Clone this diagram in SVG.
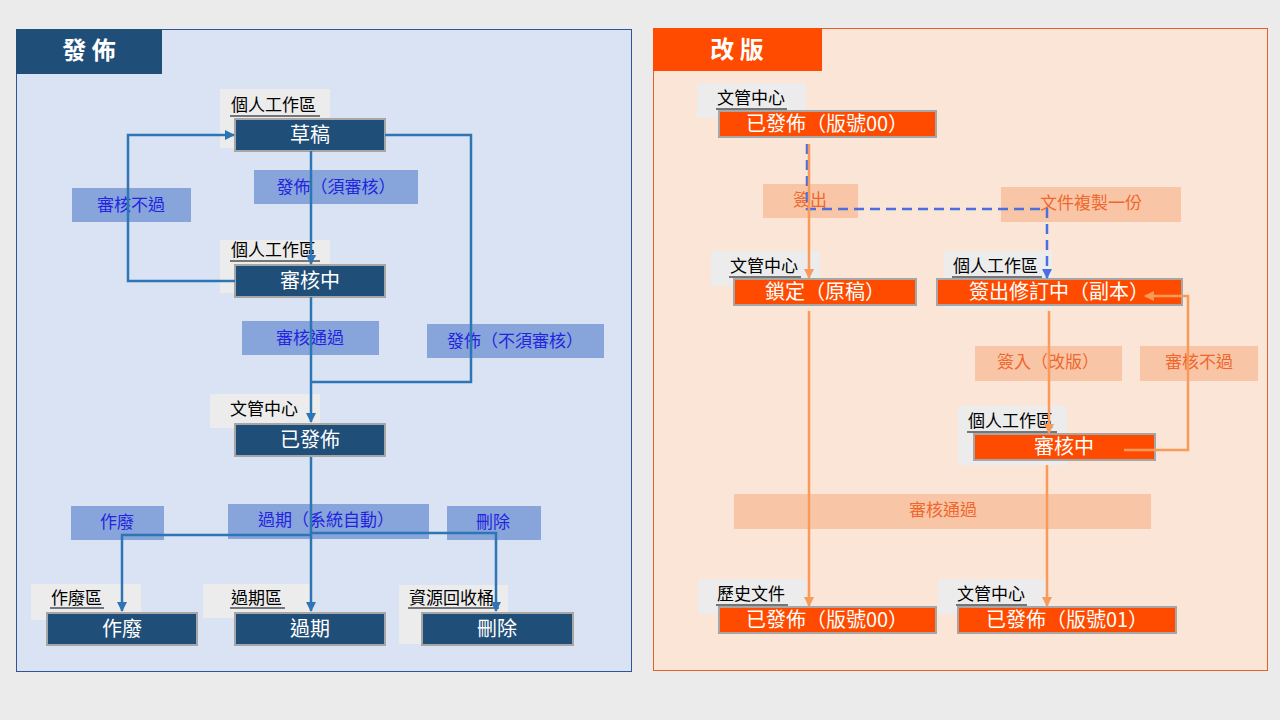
<svg xmlns="http://www.w3.org/2000/svg" width="1280" height="720" viewBox="0 0 1280 720">
<defs>
<marker id="ab" markerUnits="userSpaceOnUse" markerWidth="12" markerHeight="12" refX="9" refY="5" orient="auto"><path d="M0,0 L10,5 L0,10 Z" fill="#2e75b6"/></marker>
<marker id="ao" markerUnits="userSpaceOnUse" markerWidth="12" markerHeight="12" refX="9" refY="5" orient="auto"><path d="M0,0 L10,5 L0,10 Z" fill="#f79a5a"/></marker>
<marker id="ad" markerUnits="userSpaceOnUse" markerWidth="12" markerHeight="12" refX="9" refY="5" orient="auto"><path d="M0,0 L10,5 L0,10 Z" fill="#4a6fe3"/></marker>
</defs>
<style>
text{font-family:"Microsoft JhengHei","Noto Sans CJK TC",sans-serif}
.title{font-size:24px;font-weight:bold;fill:#fff;text-anchor:middle}
.lbg{fill:#ececec}
.lt{font-size:17px;fill:#000}
.ul{stroke:#000;stroke-width:1}
.nb{fill:#1f4e79;stroke:#a6a6a6;stroke-width:2}
.no{fill:#ff4b00;stroke:#a6a6a6;stroke-width:2}
.nt{font-size:20px;fill:#fff;text-anchor:middle}
.eb{fill:#87a5da}
.et{font-size:17px;fill:#2424e0;text-anchor:middle}
.ob{fill:#f8c6a6}
.ot{font-size:17px;fill:#f0672e;text-anchor:middle}
.cb{fill:none;stroke:#2e75b6;stroke-width:2.5}
.co{fill:none;stroke:#f79a5a;stroke-width:2.5}
.cd{fill:none;stroke:#4a6fe3;stroke-width:2.5;stroke-dasharray:10 6}
</style>
<rect width="1280" height="720" fill="#ebebeb"/>
<g id="panel-publish">
<rect x="16.5" y="29.5" width="615" height="642" fill="#dae3f3" stroke="#2f5597"/>
<rect x="16" y="29" width="146" height="45" fill="#1f4e79"/>
<text class="title" x="89" y="59">發 佈</text>
</g>
<g id="panel-revise">
<rect x="653.5" y="28.5" width="614" height="642" fill="#fbe5d6" stroke="#e2602a"/>
<rect x="653" y="28" width="169" height="43" fill="#ff4b00"/>
<text class="title" x="737" y="58">改 版</text>
</g>
<g id="edge-labels-left">
<rect class="eb" x="254" y="170" width="164" height="34"/><text class="et" x="336" y="193">發佈（須審核）</text>
<rect class="eb" x="72" y="188" width="119" height="34"/><text class="et" x="131" y="211">審核不過</text>
<rect class="eb" x="242" y="321" width="137" height="34"/><text class="et" x="310" y="344">審核通過</text>
<rect class="eb" x="427" y="324" width="177" height="34"/><text class="et" x="515" y="347">發佈（不須審核）</text>
<rect class="eb" x="71" y="506" width="93" height="34"/><text class="et" x="117" y="528">作廢</text>
<rect class="eb" x="228" y="504" width="201" height="35"/><text class="et" x="326" y="526">過期（系統自動）</text>
<rect class="eb" x="447" y="506" width="94" height="34"/><text class="et" x="493" y="528">刪除</text>
</g>
<g id="edge-labels-right">
<rect class="ob" x="763" y="184" width="95" height="34"/><text class="ot" x="810" y="206">簽出</text>
<rect class="ob" x="1001" y="187" width="180" height="35"/><text class="ot" x="1091" y="209">文件複製一份</text>
<rect class="ob" x="975" y="346" width="147" height="35"/><text class="ot" x="1048" y="368">簽入（改版）</text>
<rect class="ob" x="1140" y="346" width="118" height="35"/><text class="ot" x="1199" y="368">審核不過</text>
<rect class="ob" x="734" y="494" width="417" height="35"/><text class="ot" x="943" y="516">審核通過</text>
</g>
<g id="node-draft">
<rect class="lbg" x="220" y="89" width="110" height="59"/>
<text class="lt" x="231" y="111">個人工作區</text><line class="ul" x1="230" y1="116" x2="320" y2="116"/>
<rect class="nb" x="235" y="119" width="150" height="32"/><text class="nt" x="310" y="142">草稿</text>
</g>
<g id="node-review">
<rect class="lbg" x="220" y="240" width="110" height="53"/>
<text class="lt" x="231" y="256">個人工作區</text><line class="ul" x1="230" y1="261" x2="320" y2="261"/>
<rect class="nb" x="235" y="265" width="150" height="32"/><text class="nt" x="310" y="288">審核中</text>
</g>
<g id="node-published">
<rect class="lbg" x="210" y="394" width="110" height="34"/>
<text class="lt" x="230" y="415">文管中心</text>
<rect class="nb" x="235" y="424" width="150" height="32"/><text class="nt" x="310" y="447">已發佈</text>
</g>
<g id="node-void">
<rect class="lbg" x="31" y="584" width="110" height="36"/>
<text class="lt" x="51" y="604">作廢區</text><line class="ul" x1="50" y1="608" x2="104" y2="608"/>
<rect class="nb" x="47" y="613" width="150" height="32"/><text class="nt" x="122" y="636">作廢</text>
</g>
<g id="node-expired">
<rect class="lbg" x="203" y="584" width="108" height="34"/>
<text class="lt" x="231" y="604">過期區</text><line class="ul" x1="230" y1="608" x2="285" y2="608"/>
<rect class="nb" x="235" y="613" width="150" height="32"/><text class="nt" x="310" y="636">過期</text>
</g>
<g id="node-deleted">
<rect class="lbg" x="399" y="585" width="109" height="59"/>
<text class="lt" x="409" y="604">資源回收桶</text><line class="ul" x1="408" y1="608" x2="499" y2="608"/>
<rect class="nb" x="422" y="613" width="151" height="32"/><text class="nt" x="497" y="636">刪除</text>
</g>
<g id="node-pub00">
<rect class="lbg" x="697" y="83" width="109" height="35"/>
<text class="lt" x="717" y="104">文管中心</text><line class="ul" x1="716" y1="109" x2="787" y2="109"/>
<rect class="no" x="719" y="111" width="217" height="26"/><text class="nt" x="827" y="131">已發佈（版號00）</text>
</g>
<g id="node-locked">
<rect class="lbg" x="711" y="251" width="109" height="35"/>
<text class="lt" x="730" y="272">文管中心</text><line class="ul" x1="729" y1="277" x2="801" y2="277"/>
<rect class="no" x="734" y="279" width="182" height="26"/><text class="nt" x="825" y="299">鎖定（原稿）</text>
</g>
<g id="node-checkout">
<rect class="lbg" x="944" y="251" width="108" height="58"/>
<text class="lt" x="953" y="272">個人工作區</text><line class="ul" x1="952" y1="277" x2="1042" y2="277"/>
<rect class="no" x="937" y="279" width="245" height="26"/><text class="nt" x="1059" y="299">簽出修訂中（副本）</text>
</g>
<g id="node-review2">
<rect class="lbg" x="958" y="406" width="109" height="59"/>
<text class="lt" x="968" y="427">個人工作區</text><line class="ul" x1="967" y1="432" x2="1057" y2="432"/>
<rect class="no" x="974" y="434" width="181" height="26"/><text class="nt" x="1064" y="454">審核中</text>
</g>
<g id="node-history">
<rect class="lbg" x="698" y="579" width="108" height="35"/>
<text class="lt" x="717" y="600">歷史文件</text><line class="ul" x1="716" y1="605" x2="788" y2="605"/>
<rect class="no" x="719" y="607" width="217" height="26"/><text class="nt" x="827" y="627">已發佈（版號00）</text>
</g>
<g id="node-pub01">
<rect class="lbg" x="938" y="579" width="108" height="35"/>
<text class="lt" x="957" y="600">文管中心</text><line class="ul" x1="956" y1="605" x2="1027" y2="605"/>
<rect class="no" x="958" y="607" width="218" height="26"/><text class="nt" x="1067" y="627">已發佈（版號01）</text>
</g>
<g id="connectors">
<path class="cb" d="M311,151 V264" marker-end="url(#ab)"/>
<path class="cb" d="M235,281 H128 V135 H234" marker-end="url(#ab)"/>
<path class="cb" d="M385,135 H471 V382 H311"/>
<path class="cb" d="M311,297 V422" marker-end="url(#ab)"/>
<path class="cb" d="M311,457 V611" marker-end="url(#ab)"/>
<path class="cb" d="M311,535 H122 V611" marker-end="url(#ab)"/>
<path class="cb" d="M311,533 H496 V611" marker-end="url(#ab)"/>
<path class="cd" d="M807,144 V209 H1047 V278" marker-end="url(#ad)"/>
<path class="co" d="M809,144 V278" marker-end="url(#ao)"/>
<path class="co" d="M809,311 V606" marker-end="url(#ao)"/>
<path class="co" d="M1049,311 V433" marker-end="url(#ao)"/>
<path class="co" d="M1124,450 H1188 V296 H1145" marker-end="url(#ao)"/>
<path class="co" d="M1047,465 V606" marker-end="url(#ao)"/>
</g>
</svg>
